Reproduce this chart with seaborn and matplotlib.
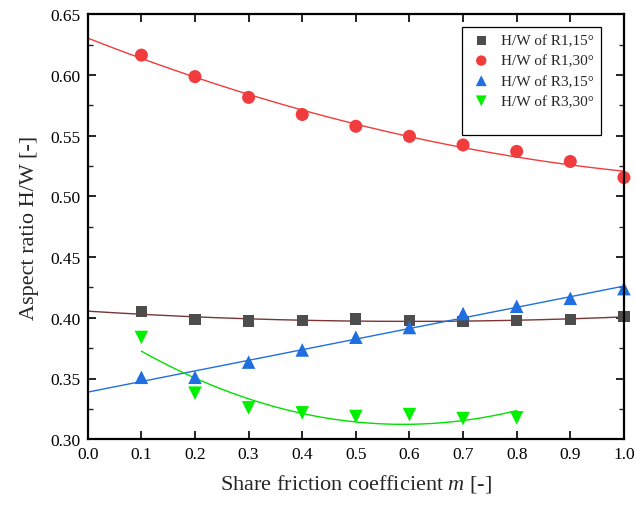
import numpy as np
import pandas as pd
import matplotlib
matplotlib.use("Agg")
import matplotlib.pyplot as plt
import seaborn as sns
from matplotlib.ticker import MultipleLocator
from matplotlib.lines import Line2D

# ---- data ----
m_full = [0.1, 0.2, 0.3, 0.4, 0.5, 0.6, 0.7, 0.8, 0.9, 1.0]
m_r3_30 = [0.1, 0.2, 0.3, 0.4, 0.5, 0.6, 0.7, 0.8]

hw_r1_15 = [0.405, 0.3986, 0.3974, 0.398, 0.399, 0.3978, 0.397, 0.398, 0.3986, 0.4008]
hw_r1_30 = [0.6163, 0.5986, 0.5815, 0.5674, 0.5577, 0.5494, 0.5423, 0.537, 0.5287, 0.5155]
hw_r3_15 = [0.3510, 0.3510, 0.3635, 0.3735, 0.3840, 0.3920, 0.4035, 0.4095, 0.4160, 0.4240]
hw_r3_30 = [0.3838, 0.3379, 0.3258, 0.3217, 0.3187, 0.3203, 0.317, 0.3176]

labels = ["H/W of R1,15°", "H/W of R1,30°", "H/W of R3,15°", "H/W of R3,30°"]
x_ticks = [0.0, 0.1, 0.2, 0.3, 0.4, 0.5, 0.6, 0.7, 0.8, 0.9, 1.0]
y_ticks = [0.30, 0.35, 0.40, 0.45, 0.50, 0.55, 0.60, 0.65]

sns.set_style("ticks")
plt.rcParams["font.family"] = ["Liberation Serif", "DejaVu Serif"]
plt.rcParams["mathtext.fontset"] = "custom"
plt.rcParams["mathtext.it"] = "Liberation Serif:italic"
plt.rcParams["mathtext.rm"] = "Liberation Serif"

fig = plt.figure(figsize=(6.36, 5.06), dpi=100)
ax = fig.add_axes([0.138, 0.130, 0.843, 0.840])

series = [
    (m_full, hw_r1_15, "s", "#4d4d4d", 2, "#7a3535", 6.5),
    (m_full, hw_r1_30, "o", "#f03c3c", 2, "#f03c3c", 7.5),
    (m_full, hw_r3_15, "^", "#1f6fe0", 1, "#1f6fe0", 7.8),
    (m_r3_30, hw_r3_30, "v", "#00f000", 2, "#00e000", 7.8),
]

for (xs, ys, mk, col, deg, lcol, ms), lab in zip(series, labels):
    coef = np.polyfit(xs, ys, deg)
    if lab.endswith("R3,30°"):
        xf = np.linspace(min(xs), max(xs), 200)
    else:
        xf = np.linspace(0.0, 1.0, 200)
    fit_df = pd.DataFrame({"x": xf, "y": np.polyval(coef, xf)})
    sns.lineplot(data=fit_df, x="x", y="y", ax=ax, color=lcol, lw=1.0,
                 legend=False, zorder=2)
    pts = pd.DataFrame({"x": xs, "y": ys})
    sns.scatterplot(data=pts, x="x", y="y", ax=ax, marker=mk, color=col,
                    s=(ms * 1.25) ** 2, edgecolor="none", label=lab,
                    zorder=3, clip_on=False)

ax.set_xlim(0.0, 1.0)
ax.set_ylim(0.30, 0.65)
ax.set_xticks(x_ticks)
ax.set_xticklabels([f"{v:.1f}" for v in x_ticks])
ax.set_yticks(y_ticks)
ax.set_yticklabels([f"{v:.2f}" for v in y_ticks])
ax.yaxis.set_minor_locator(MultipleLocator(0.025))

ax.tick_params(axis="both", which="major", direction="in", length=6, width=1.2,
               top=True, right=True, labelsize=12.5, colors="black", pad=5)
ax.tick_params(axis="y", which="minor", direction="in", length=3.5, width=1.0,
               right=True, left=True)
for sp in ax.spines.values():
    sp.set_linewidth(1.6)
    sp.set_color("black")
    sp.set_visible(True)
    sp.set_zorder(4)

ax.set_xlabel("Share friction coefficient $m$ [-]", fontsize=16, labelpad=7)
ax.set_ylabel("Aspect ratio H/W [-]", fontsize=16, labelpad=8)

handles, labs = ax.get_legend_handles_labels()
handles.append(Line2D([], [], linestyle="none", marker=None, alpha=0))
labs.append("")
leg = ax.legend(handles, labs, loc="upper right", bbox_to_anchor=(0.957, 0.97),
                borderaxespad=0, fontsize=11,
                frameon=True, fancybox=False, edgecolor="black",
                handletextpad=0.5, borderpad=0.45, labelspacing=0.42,
                handlelength=1.6, markerscale=0.8)
leg.get_frame().set_linewidth(0.9)
leg.get_frame().set_alpha(1)

fig.savefig("out.png", dpi=100)
